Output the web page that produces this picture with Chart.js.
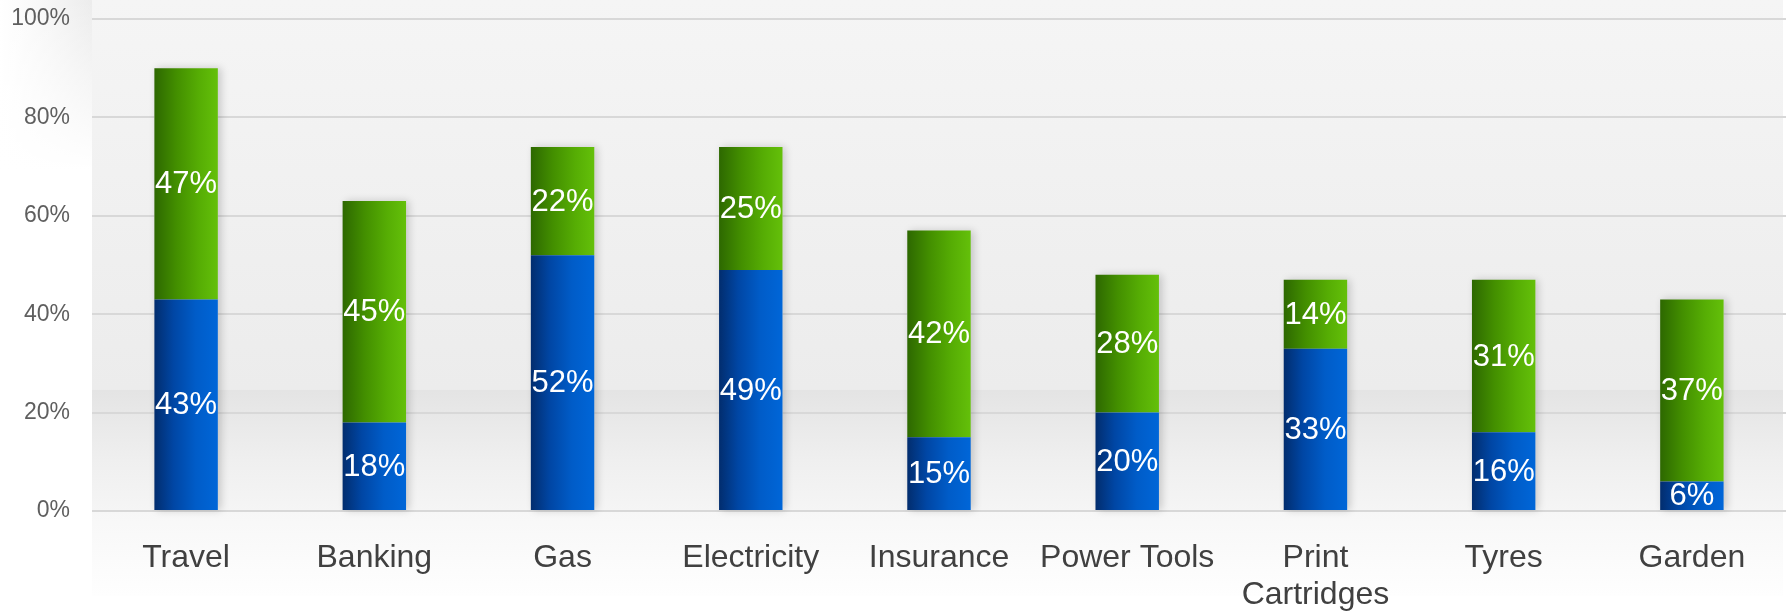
<!DOCTYPE html>
<html>
<head>
<meta charset="utf-8">
<script src="https://cdn.jsdelivr.net/npm/chart.js@4"></script>
<style>
  html, body { margin: 0; padding: 0; background: #fff; }
  #wrap { width: 1786px; height: 612px; position: relative; }
</style>
</head>
<body>
<div id="wrap"><canvas id="barCanvas"></canvas></div>
<script>
// categories and values
var labels = ['Travel', 'Banking', 'Gas', 'Electricity', 'Insurance', 'Power Tools', ['Print', 'Cartridges'], 'Tyres', 'Garden'];
var blueData = [43, 18, 52, 49, 15, 20, 33, 16, 6];
var greenData = [47, 45, 22, 25, 42, 28, 14, 31, 37];
var yTicks = [0, 20, 40, 60, 80, 100];

var fontName = '"Liberation Sans", Arial, sans-serif';
var barPct = 0.337;

// gradient left->right for one bar
function barGradient(ctx, stops){
    var chart = ctx.chart;
    var xs = chart.scales && chart.scales.x;
    var fallback = stops[stops.length-1][1];
    if(!chart.chartArea || !xs) return fallback;
    var cx = xs.getPixelForValue(ctx.dataIndex);
    var half = (xs.width / labels.length) * barPct / 2;
    if(!isFinite(cx) || !isFinite(half) || half <= 0) return fallback;
    var g = chart.ctx.createLinearGradient(cx - half, 0, cx + half, 0);
    for(var i = 0; i < stops.length; i++){
        g.addColorStop(stops[i][0], stops[i][1]);
    }
    return g;
}
var blueStops = [[0, '#022d6e'], [0.3, '#0046a4'], [0.65, '#005cc8'], [1, '#0066d8']];
var greenStops = [[0, '#2d6800'], [0.35, '#438f00'], [0.7, '#56ad04'], [1, '#64c00a']];

// background panels
var bgPlugin = {
    id: 'bg',
    beforeDraw: function(chart){
        var c = chart.ctx, a = chart.chartArea, y = chart.scales.y;
        c.save();
        c.fillStyle = '#ffffff';
        c.fillRect(0, 0, chart.width, chart.height);
        // left strip
        var lg = c.createLinearGradient(0, 0, a.left, 0);
        lg.addColorStop(0, 'rgba(240,240,240,0)');
        lg.addColorStop(1, 'rgba(236,236,236,1)');
        c.fillStyle = lg;
        c.fillRect(0, 0, a.left, 170);
        var lg2 = c.createLinearGradient(0, 0, 0, 170);
        lg2.addColorStop(0, 'rgba(255,255,255,0)');
        lg2.addColorStop(1, 'rgba(255,255,255,1)');
        c.fillStyle = lg2;
        c.fillRect(0, 0, a.left, 172);
        // main panel
        var bandTop = y.getPixelForValue(24.5);
        var f = bandTop / a.bottom;
        var pg = c.createLinearGradient(0, 0, 0, a.bottom);
        pg.addColorStop(0, '#f5f5f5');
        pg.addColorStop(f - 0.002, '#ececec');
        pg.addColorStop(f, '#e4e4e4');
        pg.addColorStop(0.9, '#efefef');
        pg.addColorStop(1, '#f5f5f5');
        c.fillStyle = pg;
        c.fillRect(a.left, 0, chart.width - a.left - 3, a.bottom);
        var bg2 = c.createLinearGradient(0, a.bottom, 0, 596);
        bg2.addColorStop(0, '#f7f7f7');
        bg2.addColorStop(1, '#fefefe');
        c.fillStyle = bg2;
        c.fillRect(a.left, a.bottom, chart.width - a.left - 3, 596 - a.bottom);
        c.restore();
    },
    beforeDatasetsDraw: function(chart){
        // soft shadow behind each stack
        var c = chart.ctx;
        var m0 = chart.getDatasetMeta(0), m1 = chart.getDatasetMeta(1);
        c.save();
        c.shadowColor = 'rgba(0,0,0,0.18)';
        c.shadowBlur = 8;
        c.shadowOffsetX = 3;
        c.fillStyle = '#dcdcdc';
        for(var i = 0; i < m0.data.length; i++){
            var b = m0.data[i], t = m1.data[i];
            c.fillRect(b.x - b.width/2, t.y, b.width, b.base - t.y);
        }
        c.restore();
    }
};

// value labels in the middle of each segment
var valuePlugin = {
    id: 'values',
    afterDatasetsDraw: function(chart){
        var c = chart.ctx;
        c.save();
        c.font = '31px ' + fontName;
        c.fillStyle = '#ffffff';
        c.textAlign = 'center';
        c.textBaseline = 'middle';
        chart.data.datasets.forEach(function(ds, di){
            chart.getDatasetMeta(di).data.forEach(function(el, i){
                c.fillText(ds.data[i] + '%', el.x, (el.y + el.base) / 2 + 1);
            });
        });
        c.restore();
    }
};

const barCanvas = document.getElementById('barCanvas').getContext('2d');
let barChart = new Chart(barCanvas, {
    type: 'bar',
    data: {
        labels: labels,
        datasets: [{
            label: 'blue',
            data: blueData,
            backgroundColor: function(ctx){ return barGradient(ctx, blueStops); },
            barPercentage: barPct,
            categoryPercentage: 1
        }, {
            label: 'green',
            data: greenData,
            backgroundColor: function(ctx){ return barGradient(ctx, greenStops); },
            barPercentage: barPct,
            categoryPercentage: 1
        }]
    },
    options: {
        responsive: true,
        maintainAspectRatio: false,
        animation: false,
        layout: { padding: { top: 19, right: 0, bottom: 0, left: 0 } },
        plugins: { legend: { display: false }, tooltip: { enabled: false } },
        scales: {
            x: {
                stacked: true,
                grid: { display: false },
                border: { display: false },
                ticks: {
                    color: '#404040',
                    font: { family: fontName, size: 32, lineHeight: 1.15 },
                    padding: 21,
                    maxRotation: 0,
                    autoSkip: false
                },
                afterFit: function(s){ s.height = 101; }
            },
            y: {
                stacked: true,
                min: 0,
                max: 100,
                afterBuildTicks: function(s){ s.ticks = yTicks.map(function(v){ return {value: v}; }); },
                grid: { color: '#d8d8d8', lineWidth: 2, drawTicks: false },
                border: { display: false },
                ticks: {
                    color: '#5f5f5f',
                    font: { family: fontName, size: 23 },
                    padding: 22,
                    callback: function(v){ return v + '%'; }
                },
                afterFit: function(s){
                    s.width = 92;
                    s.paddingTop = 0;
                    s.paddingBottom = 0;
                }
            }
        }
    },
    plugins: [bgPlugin, valuePlugin]
});
</script>
</body>
</html>
